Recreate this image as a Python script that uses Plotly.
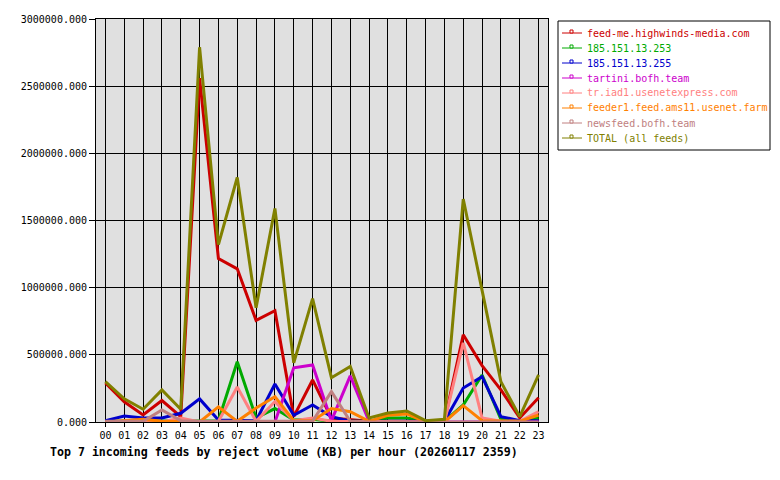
import plotly.graph_objects as go

hours = ["%02d" % h for h in range(24)]

feed_me = [290000, 150000, 52000, 160000, 40000, 2560000, 1216000, 1140000, 756000, 828000,
           40000, 313000, 30000, 20000, 5000, 5000, 5000, 5000, 5000, 649000,
           420000, 239000, 30000, 180000]
ip_253 = [5000, 5000, 5000, 5000, 5000, 10000, 10000, 448000, 30000, 100000,
          15000, 20000, 5000, 5000, 5000, 30000, 30000, 5000, 5000, 127000,
          350000, 20000, 10000, 30000]
ip_255 = [10000, 45000, 30000, 30000, 65000, 172000, 15000, 10000, 10000, 283000,
          50000, 127000, 40000, 5000, 5000, 5000, 5000, 5000, 5000, 253000,
          338000, 40000, 10000, 10000]
tartini = [0, 0, 0, 0, 0, 0, 0, 0, 0, 0,
           403000, 425000, 10000, 343000, 5000, 0, 0, 0, 0, 0,
           0, 0, 0, 0]
tr_iad1 = [0, 0, 0, 0, 30000, 0, 5000, 261000, 5000, 152000,
           10000, 30000, 5000, 5000, 0, 0, 0, 0, 0, 590000,
           30000, 5000, 5000, 77000]
feeder1 = [0, 10000, 20000, 5000, 5000, 0, 112000, 5000, 104000, 189000,
           10000, 10000, 100000, 77000, 5000, 50000, 60000, 0, 0, 122000,
           10000, 5000, 5000, 52000]
newsfeed = [5000, 5000, 5000, 90000, 10000, 5000, 5000, 5000, 0, 0,
            0, 5000, 226000, 5000, 0, 0, 0, 0, 0, 0,
            0, 0, 0, 0]
total = [300000, 172000, 95000, 239000, 95000, 2790000, 1320000, 1820000, 850000, 1590000,
         440000, 918000, 330000, 413000, 30000, 67000, 82000, 10000, 20000, 1660000,
         980000, 300000, 40000, 350000]

names = ["feed-me.highwinds-media.com", "185.151.13.253", "185.151.13.255",
         "tartini.bofh.team", "tr.iad1.usenetexpress.com",
         "feeder1.feed.ams11.usenet.farm", "newsfeed.bofh.team", "TOTAL (all feeds)"]
series = [feed_me, ip_253, ip_255, tartini, tr_iad1, feeder1, newsfeed, total]
colors = ["#cc0000", "#00aa00", "#0000cc", "#cc00cc", "#ff8080", "#ff8000", "#c08080", "#808000"]

MONO = "DejaVu Sans Mono"

# plot area in pixels
L, R, T, B = 96, 548, 19, 422
W, H = R - L, B - T


def px(x):
    return (x - L) / W


def py(y):
    return (B - y) / H


fig = go.Figure()
for name, vals, col in zip(names, series, colors):
    fig.add_trace(go.Scatter(x=hours, y=vals, mode="lines", name=name,
                             line=dict(color=col, width=3), hoverinfo="skip"))

# hand-drawn legend (compact, coloured text)
shapes = [dict(type="rect", xref="paper", yref="paper",
               x0=px(558), x1=px(770), y0=py(21), y1=py(150),
               line=dict(color="black", width=1), fillcolor="white", layer="above")]
annotations = []
for i, (name, col) in enumerate(zip(names, colors)):
    yc = 33 + 15 * i
    shapes.append(dict(type="line", xref="paper", yref="paper",
                       x0=px(562), x1=px(582), y0=py(yc), y1=py(yc),
                       line=dict(color=col, width=1), layer="above"))
    shapes.append(dict(type="rect", xref="paper", yref="paper",
                       x0=px(570), x1=px(573), y0=py(yc - 3), y1=py(yc),
                       line=dict(color=col, width=1), fillcolor="white", layer="above"))
    annotations.append(dict(text=name, xref="paper", yref="paper", x=px(585), y=py(yc),
                            xanchor="left", yanchor="middle", showarrow=False,
                            font=dict(family=MONO, size=10, color=col)))

annotations.append(dict(text="<b>Top 7 incoming feeds by reject volume (KB) per hour (20260117 2359)</b>",
                        xref="paper", yref="paper", x=px(48), y=py(452),
                        xanchor="left", yanchor="middle", showarrow=False,
                        font=dict(family=MONO, size=11.6, color="black")))

fig.update_layout(
    width=780, height=480,
    margin=dict(l=L, r=780 - R, t=T, b=480 - B),
    paper_bgcolor="white", plot_bgcolor="#e0e0e0",
    font=dict(family=MONO, size=10, color="black"),
    showlegend=False,
    xaxis=dict(type="category", range=[-0.5, 23.5], showgrid=True, gridcolor="black",
               gridwidth=1, ticks="outside", ticklen=4, tickcolor="black",
               showline=True, linecolor="black", mirror=True, zeroline=False,
               tickfont=dict(family=MONO, size=10)),
    yaxis=dict(range=[0, 3000000], dtick=500000, tickformat=".3f", showgrid=True,
               gridcolor="black", gridwidth=1, ticks="outside", ticklen=6,
               tickcolor="black", showline=True, linecolor="black", mirror=True,
               zeroline=False, tickfont=dict(family=MONO, size=10)),
    shapes=shapes,
    annotations=annotations,
)

fig.write_html("out.html")
